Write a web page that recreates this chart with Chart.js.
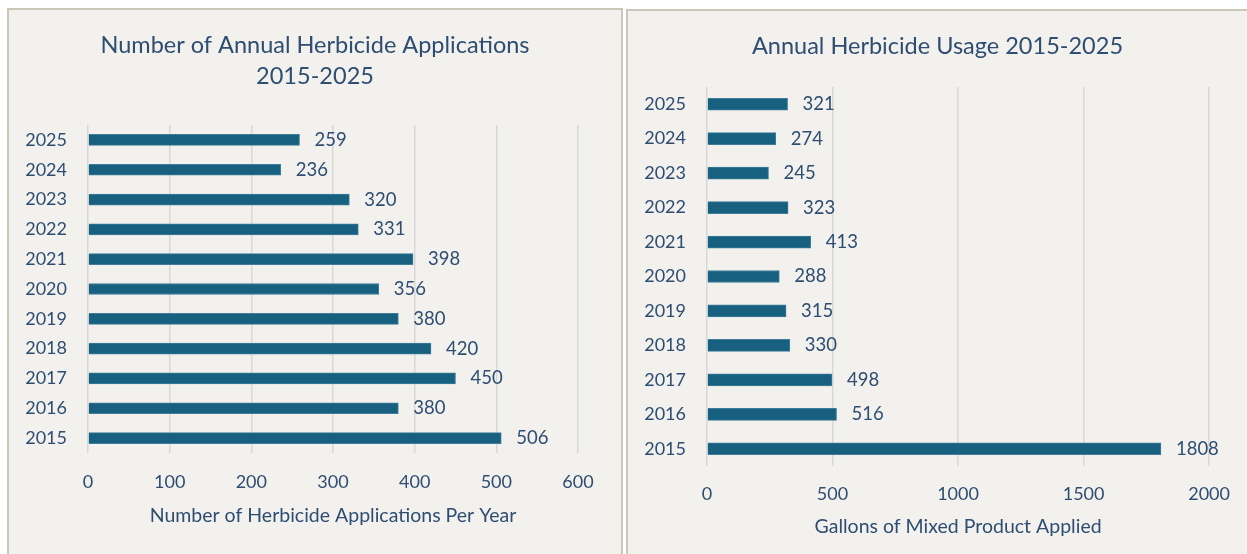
<!DOCTYPE html>
<html><head><meta charset="utf-8">
<script src="https://cdn.jsdelivr.net/npm/chart.js@4.4.1/dist/chart.umd.min.js"></script>
<style>
html,body{margin:0;padding:0;background:#fff;width:1247px;height:554px;overflow:hidden;}
.panel{position:absolute;background:#f2f1ee;border:2px solid #cac7b9;box-sizing:border-box;}
#p1{left:7px;top:8px;width:616px;height:580px;}
#p2{left:626px;top:9px;width:640px;height:580px;}
canvas{position:absolute;left:0;top:0;}
</style></head><body>
<div class="panel" id="p1"><canvas id="c1" width="612" height="544"></canvas></div>
<div class="panel" id="p2"><canvas id="c2" width="619" height="543"></canvas></div>
<script>
const years = ['2025','2024','2023','2022','2021','2020','2019','2018','2017','2016','2015'];
const applications = [259,236,320,331,398,356,380,420,450,380,506];
const gallons = [321,274,245,323,413,288,315,330,498,516,1808];
const title1 = ['Number of Annual Herbicide Applications','2015-2025'];
const title2 = 'Annual Herbicide Usage 2015-2025';
const xTitle1 = 'Number of Herbicide Applications Per Year';
const xTitle2 = 'Gallons of Mixed Product Applied';

const FONT = 'Lato, "Open Sans", sans-serif';
const TXT = '#2e4d71';
const BAR = '#17607f';

const valueLabels = {
  id: 'valueLabels',
  afterDatasetsDraw(chart) {
    const ctx = chart.ctx;
    ctx.save();
    ctx.font = '18.5px ' + FONT;
    ctx.fillStyle = TXT;
    ctx.textAlign = 'left';
    ctx.textBaseline = 'middle';
    chart.getDatasetMeta(0).data.forEach((bar, i) => {
      ctx.fillText(String(chart.data.datasets[0].data[i]), bar.x + 15, bar.y);
    });
    ctx.restore();
  }
};

function makeChart(id, values, max, step, title, xTitle, cfg) {
  return new Chart(document.getElementById(id), {
    type: 'bar',
    data: { labels: years, datasets: [{ data: values, backgroundColor: BAR, borderColor: '#3f7d99', borderWidth: 1, barThickness: cfg.bar }] },
    options: {
      indexAxis: 'y',
      responsive: false,
      animation: false,
      layout: { padding: { left: 0, right: 0, top: 0, bottom: cfg.bottom } },
      plugins: {
        legend: { display: false },
        tooltip: { enabled: false },
        title: { display: true, text: title, color: TXT, font: { family: FONT, size: 23.5, weight: 'normal', lineHeight: '31px' }, padding: { top: cfg.tpt, bottom: cfg.tpb } }
      },
      scales: {
        x: {
          min: 0, max: max,
          ticks: { stepSize: step, color: TXT, font: { family: FONT, size: 18, lineHeight: '22px' }, padding: cfg.xpad, callback: v => String(v) },
          grid: { color: '#d8d8d8', lineWidth: 1.5, drawTicks: false },
          border: { display: false },
          title: { display: true, text: xTitle, color: TXT, font: { family: FONT, size: 19.5, lineHeight: '22px' }, padding: { top: 0, bottom: 0 } },
          afterFit(scale) { scale.height = cfg.xh; }
        },
        y: {
          ticks: { color: TXT, font: { family: FONT, size: 18 }, padding: 21 },
          grid: { display: false, drawTicks: false },
          border: { display: false },
          afterFit(scale) { scale.width = 79; }
        },
        yRight: {
          type: 'category',
          axis: 'y',
          position: 'right',
          display: true,
          ticks: { display: false },
          grid: { display: false, drawTicks: false },
          border: { display: false },
          afterFit(scale) { scale.width = cfg.right; }
        }
      }
    },
    plugins: [valueLabels]
  });
}

makeChart('c1', applications, 600, 100, title1, xTitle1, { bar: 11, right: 43, bottom: 27, tpt: 19.5, tpb: 33.5, xpad: 18, xh: 74 });
makeChart('c2', gallons, 2000, 500, title2, xTitle2, { bar: 12, right: 37, bottom: 16, tpt: 19.5, tpb: 25.5, xpad: 17, xh: 72 });
</script>
</body></html>
